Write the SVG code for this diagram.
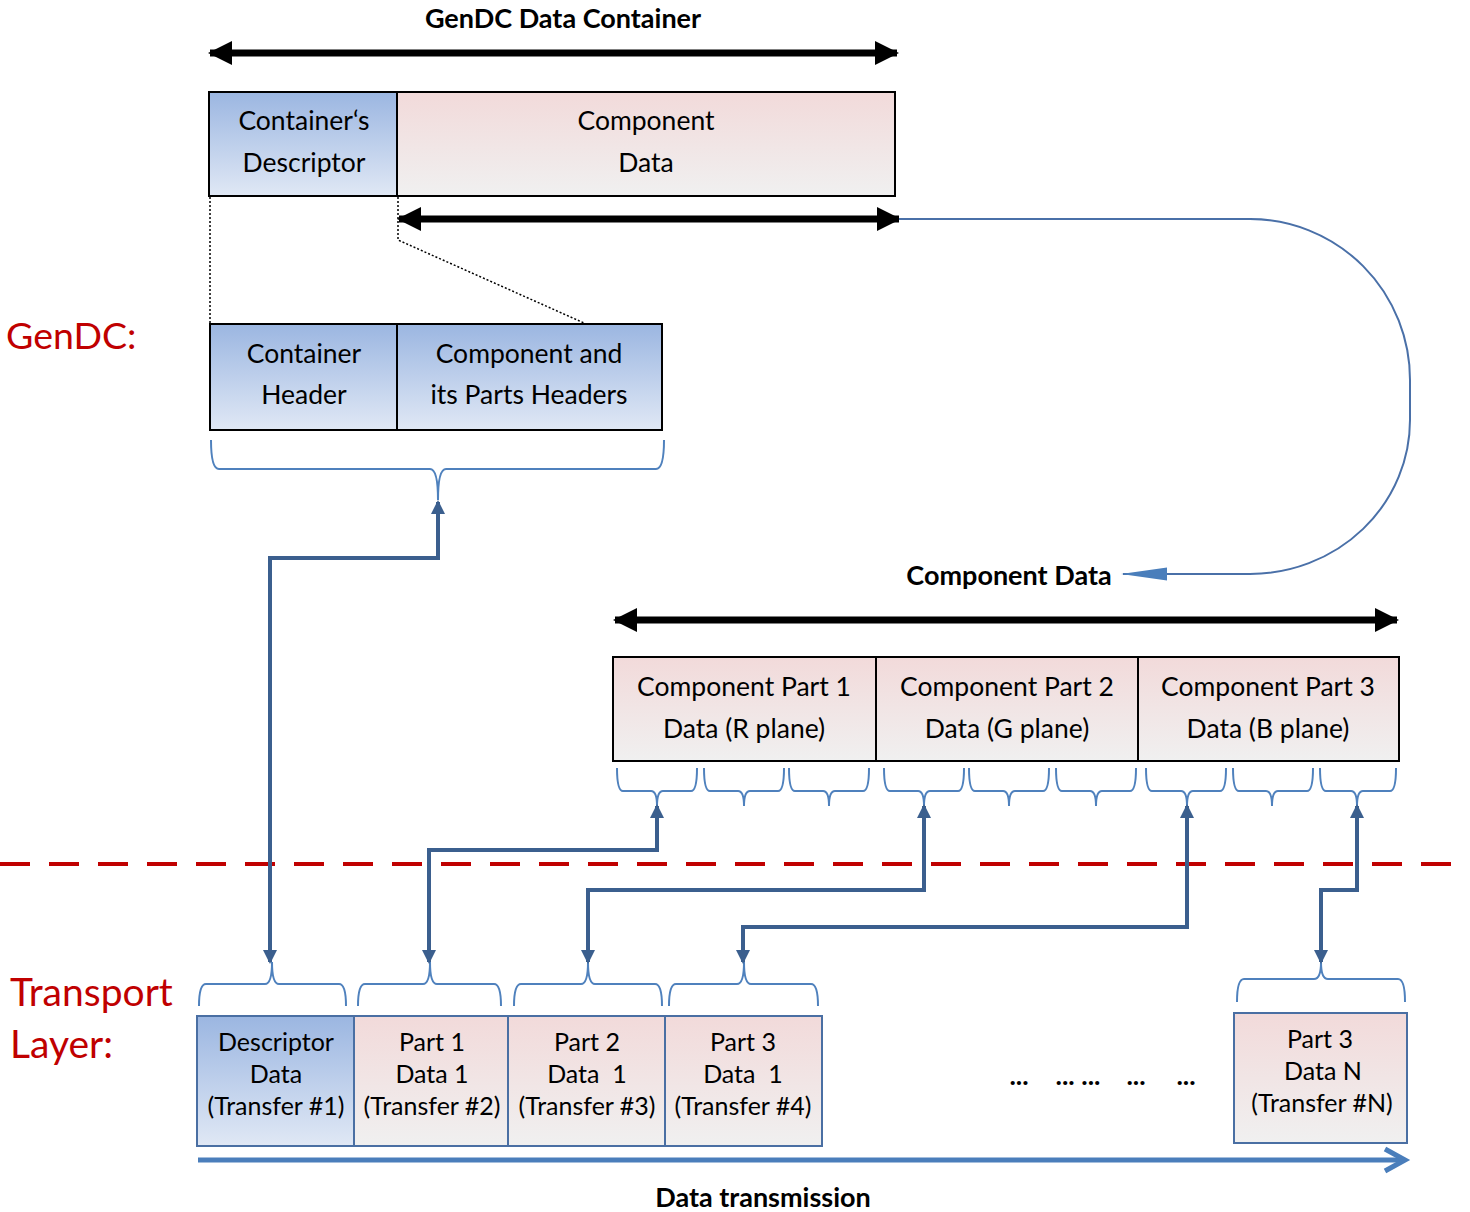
<svg xmlns="http://www.w3.org/2000/svg" width="1470" height="1212" viewBox="0 0 1470 1212">
  <defs>
    <linearGradient id="gBlue" x1="0" y1="0" x2="0" y2="1">
      <stop offset="0" stop-color="#9bb6e1"/>
      <stop offset="1" stop-color="#e0e8f5"/>
    </linearGradient>
    <linearGradient id="gPink" x1="0" y1="0" x2="0" y2="1">
      <stop offset="0" stop-color="#f2dada"/>
      <stop offset="1" stop-color="#f0f0f0"/>
    </linearGradient>
    <marker id="mBlack" viewBox="0 0 24 24" refX="22" refY="12" markerWidth="24" markerHeight="24" markerUnits="userSpaceOnUse" orient="auto-start-reverse">
      <path d="M0,0 L24,12 L0,24 Z" fill="#000"/>
    </marker>
    <marker id="mLink" viewBox="0 0 14 14" refX="12" refY="7" markerWidth="14" markerHeight="14" markerUnits="userSpaceOnUse" orient="auto-start-reverse">
      <path d="M0,0 L14,7 L0,14 Z" fill="#3b5f8e"/>
    </marker>
    <marker id="mCurve" viewBox="0 0 46 14" refX="44" refY="7" markerWidth="46" markerHeight="14" markerUnits="userSpaceOnUse" orient="auto">
      <path d="M0,0.5 L46,7 L0,13.5 Z" fill="#4a7ebb"/>
    </marker>
  </defs>
  <style>
    .t { font-family: Lato, "Open Sans", "Liberation Sans", sans-serif; fill: #000; text-anchor: middle; }
    .big { font-size: 26.5px; }
    .mid { font-size: 25px; }
    .bold { font-family: Lato, "Open Sans", "Liberation Sans", sans-serif; font-weight: bold; font-size: 27px; text-anchor: middle; fill: #000; }
    .side { font-family: Lato, "Open Sans", "Liberation Sans", sans-serif; font-size: 39px; fill: #c00000; }
    .cell { stroke: #000; stroke-width: 2; }
    .tcell { stroke: #4a6fa3; stroke-width: 2; }
    .brace { fill: none; stroke: #4f81bd; stroke-width: 2; }
    .dbl { stroke: #000; stroke-width: 7; fill: none; marker-start: url(#mBlack); marker-end: url(#mBlack); }
    .link { stroke: #3b5f8e; stroke-width: 4; fill: none; marker-start: url(#mLink); marker-end: url(#mLink); }
    .dots { stroke: #000; stroke-width: 1.5; stroke-dasharray: 2 2; fill: none; }
  </style>

  <!-- side labels -->
  <text class="side" x="6" y="349" style="font-size:37.5px">GenDC:</text>
  <text class="side" x="10" y="1006">Transport</text>
  <text class="side" x="10" y="1058">Layer:</text>

  <!-- container layout -->
  <text class="bold" x="563" y="28">GenDC Data Container</text>

  <g id="container">
    <rect class="cell" x="209" y="92" width="188" height="104" fill="url(#gBlue)"/>
    <rect class="cell" x="397" y="92" width="498" height="104" fill="url(#gPink)"/>
    <text class="t big" x="304" y="130">Container‘s</text>
    <text class="t big" x="304" y="172">Descriptor</text>
    <text class="t big" x="646" y="130">Component</text>
    <text class="t big" x="646" y="172">Data</text>
  </g>

  <g id="headers">
    <rect class="cell" x="210" y="324" width="187" height="106" fill="url(#gBlue)"/>
    <rect class="cell" x="397" y="324" width="265" height="106" fill="url(#gBlue)"/>
    <text class="t big" x="304" y="363">Container</text>
    <text class="t big" x="304" y="404">Header</text>
    <text class="t big" x="529" y="363">Component and</text>
    <text class="t big" x="529" y="404">its Parts Headers</text>
  </g>

  <text class="bold" x="1009" y="585">Component Data</text>

  <g id="parts">
    <rect class="cell" x="613" y="657" width="263" height="104" fill="url(#gPink)"/>
    <rect class="cell" x="876" y="657" width="262" height="104" fill="url(#gPink)"/>
    <rect class="cell" x="1138" y="657" width="261" height="104" fill="url(#gPink)"/>
    <text class="t big" x="744" y="696">Component Part 1</text>
    <text class="t big" x="744" y="738">Data (R plane)</text>
    <text class="t big" x="1007" y="696">Component Part 2</text>
    <text class="t big" x="1007" y="738">Data (G plane)</text>
    <text class="t big" x="1268" y="696">Component Part 3</text>
    <text class="t big" x="1268" y="738">Data (B plane)</text>
  </g>

  <!-- layer separator -->
  <line x1="0" y1="864" x2="1456" y2="864" stroke="#c00000" stroke-width="4" stroke-dasharray="30 19"/>

  <g id="transfers">
    <rect class="tcell" x="197" y="1016" width="157" height="130" fill="url(#gBlue)"/>
    <rect class="tcell" x="354" y="1016" width="154" height="130" fill="url(#gPink)"/>
    <rect class="tcell" x="508" y="1016" width="157" height="130" fill="url(#gPink)"/>
    <rect class="tcell" x="665" y="1016" width="157" height="130" fill="url(#gPink)"/>
    <rect class="tcell" x="1234" y="1013" width="173" height="130" fill="url(#gPink)"/>
    <text class="t mid" x="276" y="1051">Descriptor</text>
    <text class="t mid" x="276" y="1083">Data</text>
    <text class="t mid" x="276" y="1115">(Transfer #1)</text>
    <text class="t mid" x="432" y="1051">Part 1</text>
    <text class="t mid" x="432" y="1083">Data 1</text>
    <text class="t mid" x="432" y="1115">(Transfer #2)</text>
    <text class="t mid" x="587" y="1051">Part 2</text>
    <text class="t mid" x="587" y="1083" xml:space="preserve">Data  1</text>
    <text class="t mid" x="587" y="1115">(Transfer #3)</text>
    <text class="t mid" x="743" y="1051">Part 3</text>
    <text class="t mid" x="743" y="1083" xml:space="preserve">Data  1</text>
    <text class="t mid" x="743" y="1115">(Transfer #4)</text>
    <text class="t mid" x="1320" y="1048">Part 3</text>
    <text class="t mid" x="1323" y="1080">Data N</text>
    <text class="t mid" x="1322" y="1112">(Transfer #N)</text>
    <text class="bold" x="1019" y="1085">...</text>
    <text class="bold" x="1078" y="1085">... ...</text>
    <text class="bold" x="1136" y="1085">...</text>
    <text class="bold" x="1186" y="1085">...</text>
  </g>

  <text class="bold" x="763" y="1207">Data transmission</text>

  <g id="connectors">
    <!-- extent arrows -->
    <line class="dbl" x1="210" y1="53" x2="897" y2="53"/>
    <line class="dbl" x1="399" y1="219" x2="899" y2="219"/>
    <line class="dbl" x1="615" y1="620" x2="1397" y2="620"/>

    <!-- zoom guides from descriptor to headers -->
    <path class="dots" d="M210,197 V323"/>
    <path class="dots" d="M398,197 V240 L584,323"/>

    <!-- component data loop -->
    <path d="M899,219 H1250 A160,161 0 0 1 1410,380 V420 A160,154 0 0 1 1250,574 H1123" fill="none" stroke="#4a70a8" stroke-width="2" marker-end="url(#mCurve)"/>

    <!-- braces: header group (opening up) -->
    <path class="brace" d="M211,440 Q211,469 219,469 H430 Q438,469 438,500 Q438,469 446,469 H656 Q664,469 664,440"/>

    <!-- braces under component parts -->
    <g class="brace">
      <path d="M617,768 Q617,791 623,791 H651 Q657,791 657,806 Q657,791 663,791 H691 Q697,791 697,768"/>
      <path d="M704,768 Q704,791 710,791 H738 Q744,791 744,806 Q744,791 750,791 H778 Q784,791 784,768"/>
      <path d="M789,768 Q789,791 795,791 H823 Q829,791 829,806 Q829,791 835,791 H863 Q869,791 869,768"/>
      <path d="M884,768 Q884,791 890,791 H918 Q924,791 924,806 Q924,791 930,791 H958 Q964,791 964,768"/>
      <path d="M969,768 Q969,791 975,791 H1003 Q1009,791 1009,806 Q1009,791 1015,791 H1043 Q1049,791 1049,768"/>
      <path d="M1056,768 Q1056,791 1062,791 H1090 Q1096,791 1096,806 Q1096,791 1102,791 H1130 Q1136,791 1136,768"/>
      <path d="M1146,768 Q1146,791 1152,791 H1181 Q1187,791 1187,806 Q1187,791 1193,791 H1220 Q1226,791 1226,768"/>
      <path d="M1233,768 Q1233,791 1239,791 H1266 Q1272,791 1272,806 Q1272,791 1278,791 H1307 Q1313,791 1313,768"/>
      <path d="M1320,768 Q1320,791 1326,791 H1351 Q1357,791 1357,806 Q1357,791 1363,791 H1390 Q1396,791 1396,768"/>
    </g>

    <!-- braces over transfers (opening down) -->
    <g class="brace">
      <path d="M199,1006 Q199,984 206,984 H265 Q272,984 272,962 Q272,984 279,984 H339 Q346,984 346,1006"/>
      <path d="M358,1006 Q358,984 365,984 H423 Q430,984 430,962 Q430,984 437,984 H494 Q501,984 501,1006"/>
      <path d="M514,1006 Q514,984 521,984 H581 Q588,984 588,962 Q588,984 595,984 H655 Q662,984 662,1006"/>
      <path d="M669,1006 Q669,984 676,984 H737 Q744,984 744,962 Q744,984 751,984 H811 Q818,984 818,1006"/>
      <path d="M1237,1002 Q1237,979 1244,979 H1314 Q1321,979 1321,962 Q1321,979 1328,979 H1398 Q1405,979 1405,1002"/>
    </g>

    <!-- transfer links -->
    <path class="link" d="M270,962 V558 H438 V502"/>
    <path class="link" d="M429,962 V850 H657 V806"/>
    <path class="link" d="M588,962 V890 H924 V806"/>
    <path class="link" d="M743,962 V927 H1187 V806"/>
    <path class="link" d="M1321,962 V890 H1357 V806"/>

    <!-- transmission direction -->
    <line x1="198" y1="1160" x2="1403" y2="1160" stroke="#4a7ebb" stroke-width="5"/>
    <path d="M1385,1149 L1405,1160 L1385,1171" fill="none" stroke="#4a7ebb" stroke-width="5"/>
  </g>
</svg>
